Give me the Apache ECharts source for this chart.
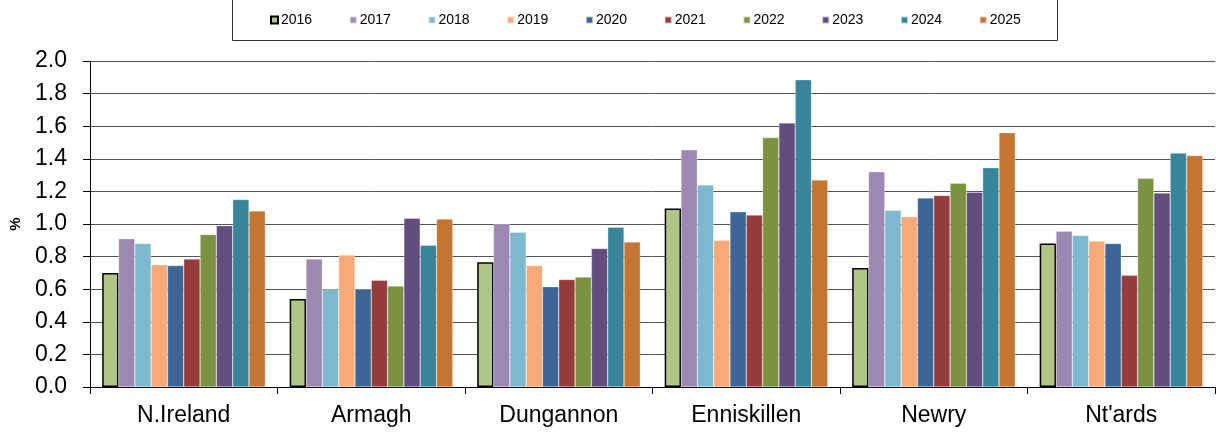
<!DOCTYPE html>
<html>
<head>
    <meta charset="UTF-8">
    <title>Bar chart</title>
    <script src="https://cdn.jsdelivr.net/npm/echarts@6/dist/echarts.min.js"></script>
    <style>
        html, body { margin: 0; padding: 0; background: #fff; }
        #chart { width: 1216px; height: 434px; }
    </style>
</head>
<body>
<div id="chart"></div>
<script>
    // categories and years
    var areas = ['N.Ireland', 'Armagh', 'Dungannon', 'Enniskillen', 'Newry', "Nt'ards"];
    var years = ['2016', '2017', '2018', '2019', '2020', '2021', '2022', '2023', '2024', '2025'];
    var yTicks = [0, 0.2, 0.4, 0.6, 0.8, 1.0, 1.2, 1.4, 1.6, 1.8, 2.0];

    // one array per year, values in area order
    var v2016 = [0.70, 0.54, 0.765, 1.095, 0.73, 0.88];
    var v2017 = [0.91, 0.785, 1.00, 1.455, 1.32, 0.955];
    var v2018 = [0.88, 0.60, 0.95, 1.24, 1.085, 0.93];
    var v2019 = [0.75, 0.81, 0.745, 0.90, 1.045, 0.895];
    var v2020 = [0.745, 0.60, 0.615, 1.075, 1.16, 0.88];
    var v2021 = [0.785, 0.655, 0.66, 1.055, 1.175, 0.685];
    var v2022 = [0.935, 0.62, 0.675, 1.53, 1.25, 1.28];
    var v2023 = [0.99, 1.035, 0.85, 1.62, 1.195, 1.19];
    var v2024 = [1.15, 0.87, 0.98, 1.885, 1.345, 1.435];
    var v2025 = [1.08, 1.03, 0.89, 1.27, 1.56, 1.42];

    var colors = ['#AFC686', '#9C88B2', '#7DB8CF', '#F7A977', '#3D6596',
                  '#963C3C', '#7B9241', '#634D7E', '#38849A', '#C37533'];
    var allValues = [v2016, v2017, v2018, v2019, v2020, v2021, v2022, v2023, v2024, v2025];

    var series = [];
    for (var i = 0; i < years.length; i++) {
        series.push({
            name: years[i],
            type: 'bar',
            data: allValues[i],
            barGap: '0%',
            barCategoryGap: '13%',
            itemStyle: {
                color: colors[i],
                borderColor: i == 0 ? '#000' : 'rgba(255,255,255,0.6)',
                borderWidth: i == 0 ? 1.5 : 0.5
            }
        });
    }

    var myChart = echarts.init(document.getElementById('chart'));
    myChart.setOption({
        animation: false,
        textStyle: { fontFamily: 'Liberation Sans, Arial, sans-serif' },
        graphic: [{
            type: 'rect',
            shape: { x: 232.5, y: -5, width: 825, height: 45.5 },
            style: { fill: 'none', stroke: '#333', lineWidth: 1 }
        }],
        legend: {
            data: years,
            top: 8,
            left: 265,
            itemWidth: 7,
            itemHeight: 7,
            itemGap: 36.6,
            icon: 'rect',
            textStyle: { fontSize: 14, color: '#000', padding: [0, 0, 0, -2] }
        },
        grid: { left: 90, right: 1, top: 61, bottom: 47, containLabel: false, outerBoundsMode: 'none' },
        xAxis: {
            type: 'category',
            data: areas,
            axisLine: { lineStyle: { color: '#000', width: 1 } },
            axisTick: { show: true, alignWithLabel: false, length: 7, lineStyle: { color: '#000' } },
            axisLabel: { fontSize: 23, color: '#000', margin: 17 }
        },
        yAxis: {
            type: 'value',
            min: yTicks[0],
            max: yTicks[yTicks.length - 1],
            interval: 0.2,
            name: '%',
            nameLocation: 'middle',
            nameGap: 67,
            nameRotate: 90,
            nameTextStyle: { fontSize: 15, fontWeight: 'bold', color: '#000' },
            axisLine: { show: true, lineStyle: { color: '#000' } },
            axisTick: { show: true, length: 7, lineStyle: { color: '#000' } },
            axisLabel: {
                fontSize: 23, color: '#000', margin: 23,
                formatter: function (v) { return v.toFixed(1); }
            },
            splitLine: { lineStyle: { color: '#555', width: 1 } }
        },
        series: series
    });
</script>
</body>
</html>
